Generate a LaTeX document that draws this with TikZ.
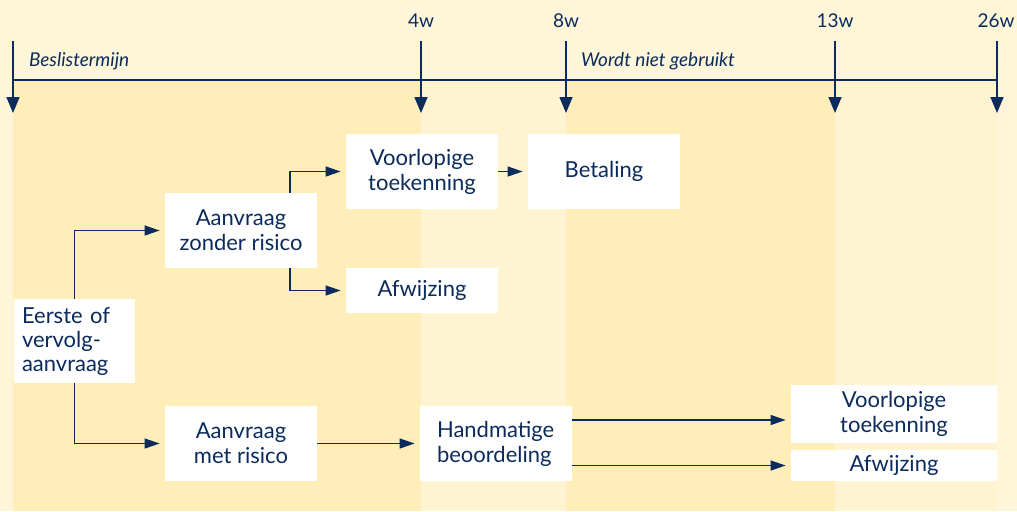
\documentclass[tikz,border=0pt]{standalone}
\usepackage{fontspec}
\setmainfont{Lato}
\usetikzlibrary{arrows.meta,calc}

\definecolor{navy}{HTML}{0B2B5C}
\definecolor{creamtop}{HTML}{FFF6D9}
\definecolor{banddark}{HTML}{FFEDBA}
\definecolor{bandlight}{HTML}{FFF3D1}

\begin{document}
\begin{tikzpicture}[x=0.5pt,y=-0.5pt,
	box/.style={fill=white,text=navy,inner sep=0pt,align=center,
		font=\fontsize{11}{12.5}\selectfont},
	conn/.style={draw=navy,line width=0.65pt,
		-{Triangle[length=7.5pt,width=5pt]},shorten >=2.5pt},
	tick/.style={draw=navy,line width=0.75pt,
		-{Triangle[length=8pt,width=6.5pt]}},
	week/.style={text=navy,anchor=base,font=\fontsize{9.5}{11}\selectfont},
	term/.style={text=navy,anchor=base west,font=\fontsize{9.5}{11}\selectfont\itshape}]
		\useasboundingbox (0,0) rectangle (1017,511);
		% achtergrond en banden
		\fill[creamtop] (0,0) rectangle (1017,511);
		\fill[banddark] (13,80) rectangle (421,511);
		\fill[bandlight] (421,80) rectangle (566,511);
		\fill[banddark] (566,80) rectangle (835,511);
		\fill[bandlight] (835,80) rectangle (997,511);
		% tijdlijn
		\draw[navy,line width=0.75pt] (13,80) -- (997,80);
		\foreach \x/\nm in {13/t0,421/t4,566/t8,835/t13,997/t26} {
			\coordinate (\nm) at (\x,41);
			\coordinate (\nm end) at (\x,113);
			\draw[tick] (\nm) -- (\nm end);
		}
		\node[week] (w4) at (421,27) {4w};
		\node[week] (w8) at (566,27) {8w};
		\node[week] (w13) at (835,27) {13w};
		\node[week] (w26) at (996,27) {26w};
		\node[term] (beslis) at (22,66) {Beslistermijn};
		\node[term] (nietgebr) at (574,66) {Wordt niet gebruikt};
		% blokken
		\node[box,minimum width=60.5pt,minimum height=42pt,text width=52.5pt,
			align=left,font=\fontsize{11}{12}\selectfont] (eerste) at (74.5,341)
			{Eerste of\\vervolg-\\aanvraag};
		\node[box,minimum width=76pt,minimum height=37.5pt] (zonder) at (241,230.5)
			{Aanvraag\\zonder risico};
		\node[box,minimum width=76pt,minimum height=37.5pt] (voorl) at (422,171.5)
			{Voorlopige\\toekenning};
		\node[box,minimum width=76pt,minimum height=37.5pt] (betaling) at (604,171.5)
			{Betaling};
		\node[box,minimum width=76pt,minimum height=22.5pt] (afw) at (422,290.5)
			{Afwijzing};
		\node[box,minimum width=76pt,minimum height=37.5pt] (met) at (241,443.5)
			{Aanvraag\\met risico};
		\node[box,minimum width=76pt,minimum height=37.5pt,inner xsep=8.5pt,
			text width=59pt,align=left] (hand) at (496,443.5)
			{Handmatige\\beoordeling};
		\node[box,minimum width=103pt,minimum height=29pt] (voorlb) at (894,414)
			{Voorlopige\\toekenning};
		\node[box,minimum width=103pt,minimum height=15.5pt] (afwb) at (894,465.5)
			{Afwijzing};
		% verbindingen
		\draw[conn] (eerste.north) |- (zonder.west);
		\draw[conn] (eerste.south) |- (met.west);
		\draw[conn] ($(zonder.north)+(49,0)$) |- (voorl.west);
		\draw[conn] ($(zonder.south)+(49,0)$) |- (afw.west);
		\draw[conn] (voorl) -- (betaling);
		\draw[conn] (met) -- (hand);
		\coordinate (hoog) at (0,420);
		\draw[conn] (hand.east |- hoog) -- (voorlb.west |- hoog);
		\draw[conn] (hand.east |- afwb.west) -- (afwb.west);
	\end{tikzpicture}
\end{document}
